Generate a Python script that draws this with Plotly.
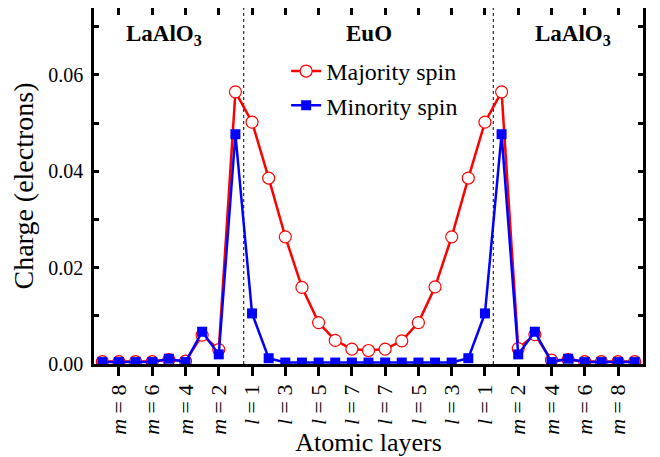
import plotly.graph_objects as go

# ---- data ----
layer_index = list(range(33))  # m9..m1 | l1..l8..l1 | m1..m9
left_oxide_layers = 9
euo_layers = 15

majority = [0.0005, 0.0005, 0.0005, 0.0005, 0.0009, 0.0006, 0.0060, 0.0030, 0.0565,
            0.0502, 0.0386, 0.0264, 0.0159, 0.0086, 0.0049, 0.0031, 0.0028,
            0.0031, 0.0048, 0.0086, 0.0160, 0.0264, 0.0386, 0.0502,
            0.0565, 0.0032, 0.0061, 0.0008, 0.0009, 0.0005, 0.0005, 0.0005, 0.0005]
minority = [0.0004, 0.0004, 0.0004, 0.0004, 0.0011, 0.0004, 0.0067, 0.0020, 0.0477,
            0.0105, 0.0012, 0.0003, 0.0003, 0.0003, 0.0003, 0.0003, 0.0003,
            0.0003, 0.0003, 0.0003, 0.0003, 0.0003, 0.0012, 0.0105,
            0.0477, 0.0020, 0.0067, 0.0004, 0.0011, 0.0004, 0.0004, 0.0004, 0.0004]

tick_positions = [1, 3, 5, 7, 9, 11, 13, 15, 17, 19, 21, 23, 25, 27, 29, 31]
tick_labels = ["<i>m</i> = 8", "<i>m</i> = 6", "<i>m</i> = 4", "<i>m</i> = 2",
               "<i>l</i> = 1", "<i>l</i> = 3", "<i>l</i> = 5", "<i>l</i> = 7",
               "<i>l</i> = 7", "<i>l</i> = 5", "<i>l</i> = 3", "<i>l</i> = 1",
               "<i>m</i> = 2", "<i>m</i> = 4", "<i>m</i> = 6", "<i>m</i> = 8"]

region_labels = ["LaAlO<sub>3</sub>", "EuO", "LaAlO<sub>3</sub>"]
region_label_x = [3.7, 16, 28.3]

FONT = "Liberation Serif, Times New Roman, serif"
RED = "#FF0000"
BLUE = "#0000FF"

fig = go.Figure()
fig.add_trace(go.Scatter(
    x=layer_index, y=majority, mode="lines+markers", name="Majority spin",
    line=dict(color=RED, width=2.5),
    marker=dict(symbol="circle", size=12, color="white", line=dict(color=RED, width=1.2)),
))
fig.add_trace(go.Scatter(
    x=layer_index, y=minority, mode="lines+markers", name="Minority spin",
    line=dict(color=BLUE, width=2.5),
    marker=dict(symbol="square", size=10, color=BLUE, line=dict(width=0)),
))
# invisible carrier trace so the top (inward-tick) axis is drawn
fig.add_trace(go.Scatter(
    x=layer_index, y=majority, xaxis="x2", yaxis="y", mode="markers",
    marker=dict(opacity=0), showlegend=False, hoverinfo="skip",
))

# interface lines
iface1 = left_oxide_layers - 0.5
iface2 = left_oxide_layers + euo_layers - 0.5
for xv in (iface1, iface2):
    fig.add_shape(type="line", xref="x", yref="paper", x0=xv, x1=xv, y0=0, y1=1,
                  line=dict(color="black", width=1, dash="dot"), layer="below")

for txt, xv in zip(region_labels, region_label_x):
    fig.add_annotation(x=xv, y=0.97, xref="x", yref="paper", text=f"<b>{txt}</b>",
                       showarrow=False, font=dict(family=FONT, size=23, color="black"))

fig.update_layout(
    width=652, height=449,
    margin=dict(l=86, r=17, t=0, b=93),
    paper_bgcolor="white", plot_bgcolor="white",
    font=dict(family=FONT, color="black"),
    showlegend=True,
    legend=dict(x=0.35, y=0.885, xanchor="left", yanchor="top",
                bgcolor="rgba(0,0,0,0)", font=dict(family=FONT, size=24),
                tracegroupgap=0),
    xaxis=dict(range=[-0.5, 32.5], tickmode="array", tickvals=tick_positions,
               ticktext=tick_labels, tickangle=-90, ticks="outside", ticklen=9,
               tickwidth=2.5, tickcolor="black", showline=True, linecolor="black",
               linewidth=2.5, mirror=True, showgrid=False, zeroline=False,
               automargin=False,
               tickfont=dict(family=FONT, size=22),
               title=dict(text="Atomic layers", font=dict(family=FONT, size=26), standoff=2)),
    xaxis2=dict(range=[-0.5, 32.5], overlaying="x", side="top", anchor="y",
                tickmode="array", tickvals=tick_positions, ticks="inside", ticklen=7,
                tickwidth=2.5, tickcolor="black", showticklabels=False,
                showgrid=False, zeroline=False, showline=False, automargin=False),
    yaxis=dict(range=[0, 0.0739], tickvals=[0, 0.02, 0.04, 0.06], tickformat=".2f",
               ticks="inside", ticklen=5, tickwidth=2.5, tickcolor="black",
               minor=dict(tickvals=[0.01, 0.03, 0.05, 0.07], ticks="inside", ticklen=5,
                          tickwidth=2.5, tickcolor="black"),
               showline=True, linecolor="black", linewidth=2.5, mirror="ticks",
               showgrid=False, zeroline=False, ticklabelstandoff=4, automargin=False,
               tickfont=dict(family=FONT, size=20),
               title=dict(text="Charge (electrons)", font=dict(family=FONT, size=28), standoff=8)),
)

fig.write_html("out.html")
